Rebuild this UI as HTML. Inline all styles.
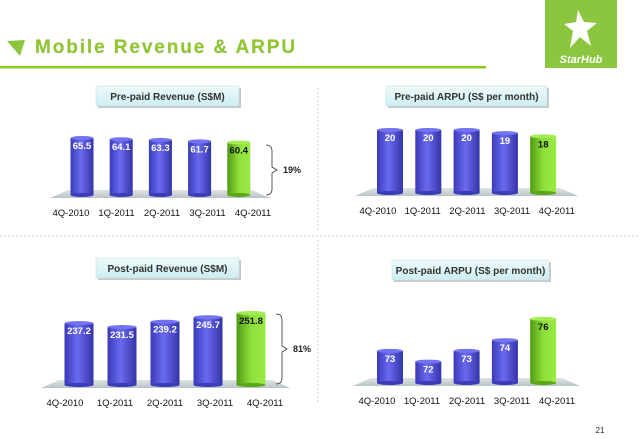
<!DOCTYPE html>
<html><head><meta charset="utf-8">
<style>
body{margin:0;width:640px;height:439px;background:#fff;overflow:hidden;font-family:"Liberation Sans",sans-serif;}
svg{display:block}
</style></head>
<body>
<svg id="s" width="640" height="439" viewBox="0 0 640 439" xmlns="http://www.w3.org/2000/svg">
<defs>
<linearGradient id="gb" x1="0" x2="1"><stop offset="0" stop-color="#3a3ab8"/><stop offset="0.45" stop-color="#6a6af0"/><stop offset="1" stop-color="#3434a8"/></linearGradient>
<linearGradient id="gg" x1="0" x2="1"><stop offset="0" stop-color="#4f9a12"/><stop offset="0.5" stop-color="#8ee03a"/><stop offset="1" stop-color="#9bea44"/></linearGradient>
<linearGradient id="gt" x1="0" x2="0" y1="0" y2="1"><stop offset="0" stop-color="#eefafb"/><stop offset="1" stop-color="#cdeef2"/></linearGradient>
<linearGradient id="gf" x1="0" x2="0" y1="0" y2="1"><stop offset="0" stop-color="#dfe5e6"/><stop offset="1" stop-color="#b9c4c6"/></linearGradient>
</defs>
<g>
<polygon points="7,41 25,40 20,56" fill="#8cc63f"/>
<text x="35" y="53" font-size="19" font-weight="bold" fill="#8ccc1c" letter-spacing="1.9" stroke="#b0b0b0" stroke-width="0.3">Mobile Revenue &amp; ARPU</text>
<rect x="0" y="66" width="486" height="2.5" fill="#8ccc1c"/>
<g>
<rect x="545" y="0" width="72" height="68" fill="#8cc63f"/>
<polygon points="578,10 584,22 597,23 587,31 591,46 580,37 570,48 573,31 564,24 576,22" fill="#fff"/>
<text x="581" y="63" font-size="11" font-weight="bold" font-style="italic" fill="#fff" text-anchor="middle">StarHub</text>
</g>
</g>
<line x1="318" y1="88" x2="318" y2="230" stroke="#b8d8b8" stroke-dasharray="2,2"/>
<line x1="318" y1="240" x2="318" y2="404" stroke="#b8d8b8" stroke-dasharray="2,2"/>
<line x1="0" y1="236" x2="640" y2="236" stroke="#b8d8b8" stroke-dasharray="2,2"/>
<text x="600" y="433" font-size="8" fill="#222" text-anchor="middle">21</text>
</svg>
<script>
const categories = ["4Q-2010","1Q-2011","2Q-2011","3Q-2011","4Q-2011"];
const prepaidRevenue = [65.5,64.1,63.3,61.7,60.4];
const prepaidArpu = [20,20,20,19,18];
const postpaidRevenue = [237.2,231.5,239.2,245.7,251.8];
const postpaidArpu = [73,72,73,74,76];
const prepaidRevenueLabels = ["65.5","64.1","63.3","61.7","60.4"];
const prepaidArpuLabels = ["20","20","20","19","18"];
const postpaidRevenueLabels = ["237.2","231.5","239.2","245.7","251.8"];
const postpaidArpuLabels = ["73","72","73","74","76"];

const NS="http://www.w3.org/2000/svg";
const svg=document.getElementById('s');
function mk(tag,attrs,parent){const e=document.createElementNS(NS,tag);for(const k in attrs)e.setAttribute(k,attrs[k]);(parent||svg).appendChild(e);return e;}

function chart(cfg){
  const g=mk('g',{});
  
  
  const tb=mk('g',{},g);
  
  
  mk('rect',{x:cfg.tx+2,y:cfg.ty+2,width:cfg.tw,height:20,fill:'#c8c8c8'},tb);
  mk('rect',{x:cfg.tx,y:cfg.ty,width:cfg.tw,height:20,fill:'url(#gt)',stroke:'#c5dfe2','stroke-width':0.6},tb);
  const tt=mk('text',{x:cfg.tx+cfg.tw/2,y:cfg.ty+14,'font-size':10,'font-weight':'bold',fill:'#333','text-anchor':'middle'},tb);
  tt.textContent=cfg.title;
  const f=mk('polygon',{points:`${cfg.fx0+18},${cfg.base-5} ${cfg.fx1-18},${cfg.base-5} ${cfg.fx1},${cfg.base+3} ${cfg.fx0},${cfg.base+3}`,fill:'url(#gf)'},g);
  
  
  const n=categories.length;
  const xc=i=>cfg.x0+i*cfg.step;
  const lx=i=>cfg.lx0+i*cfg.lstep;
  const hScale=v=>(v-cfg.vmin)*cfg.k;
  cfg.values.forEach((v,i)=>{
    const h=hScale(v), cx=xc(i), w=cfg.bw, top=cfg.base-h, last=i===n-1;
    const bg=mk('g',{},g);
    
    
    mk('rect',{x:cx-w/2,y:top,width:w,height:h,fill:last?'url(#gg)':'url(#gb)'},bg);
    mk('ellipse',{cx:cx,cy:cfg.base,rx:w/2,ry:2,fill:last?'#5aa81a':'#3c3cb8'},bg);
    mk('ellipse',{cx:cx,cy:top,rx:w/2,ry:2,fill:last?'#a4ee55':'#7373f2'},bg);
    const t=mk('text',{x:cx,y:top+11,'font-size':cfg.fs,'font-weight':'bold',fill:last?'#111':'#fff','text-anchor':'middle'},bg);
    t.textContent=cfg.labels[i];
    const l=mk('text',{x:lx(i),y:cfg.ly,'font-size':9.5,fill:'#111','text-anchor':'middle'},g);
    
    
    l.textContent=categories[i];
  });
  if(cfg.br){
    const b=cfg.br;
    const p=mk('path',{d:`M${b.x},${b.y0} Q${b.x+6},${b.y0} ${b.x+6},${b.y0+6} L${b.x+6},${(b.y0+b.y1)/2-3} L${b.x+11},${(b.y0+b.y1)/2} L${b.x+6},${(b.y0+b.y1)/2+3} L${b.x+6},${b.y1-6} Q${b.x+6},${b.y1} ${b.x},${b.y1}`,fill:'none',stroke:'#333','stroke-width':0.8},g);
    
    
    const t=mk('text',{x:b.x+17,y:(b.y0+b.y1)/2+3,'font-size':9,'font-weight':'bold',fill:'#222'},g);
    
    
    t.textContent=b.label;
  }
}
chart({name:'prepaid-revenue-chart',title:'Pre-paid Revenue (S$M)',tx:96,ty:86,tw:143,values:prepaidRevenue,labels:prepaidRevenueLabels,
  x0:82,step:39.2,bw:23,base:195,vmin:0,k:0.87,fs:9.5,ly:216,lx0:71,lstep:45.5,fx0:50,fx1:270,br:{x:266,y0:145,y1:195,label:'19%'}});
chart({name:'prepaid-arpu-chart',title:'Pre-paid ARPU (S$ per month)',tx:386,ty:86,tw:161,values:prepaidArpu,labels:prepaidArpuLabels,
  x0:390,step:38.3,bw:26,base:193,vmin:0,k:3.15,fs:9.5,ly:214,lx0:378,lstep:44.7,fx0:355,fx1:578});
chart({name:'postpaid-revenue-chart',title:'Post-paid Revenue (S$M)',tx:96,ty:258,tw:143,values:postpaidRevenue,labels:postpaidRevenueLabels,
  x0:79,step:43,bw:29,base:385,vmin:147.5,k:0.69,fs:9.5,ly:406,lx0:65,lstep:50,fx0:41,fx1:290,br:{x:276,y0:314,y1:384,label:'81%'}});
chart({name:'postpaid-arpu-chart',title:'Post-paid ARPU (S$ per month)',tx:392,ty:260,tw:157,values:postpaidArpu,labels:postpaidArpuLabels,
  x0:390,step:38.3,bw:26,base:383,vmin:70,k:10.7,fs:9.5,ly:404,lx0:377,lstep:45,fx0:353,fx1:580});
</script>
</body></html>
